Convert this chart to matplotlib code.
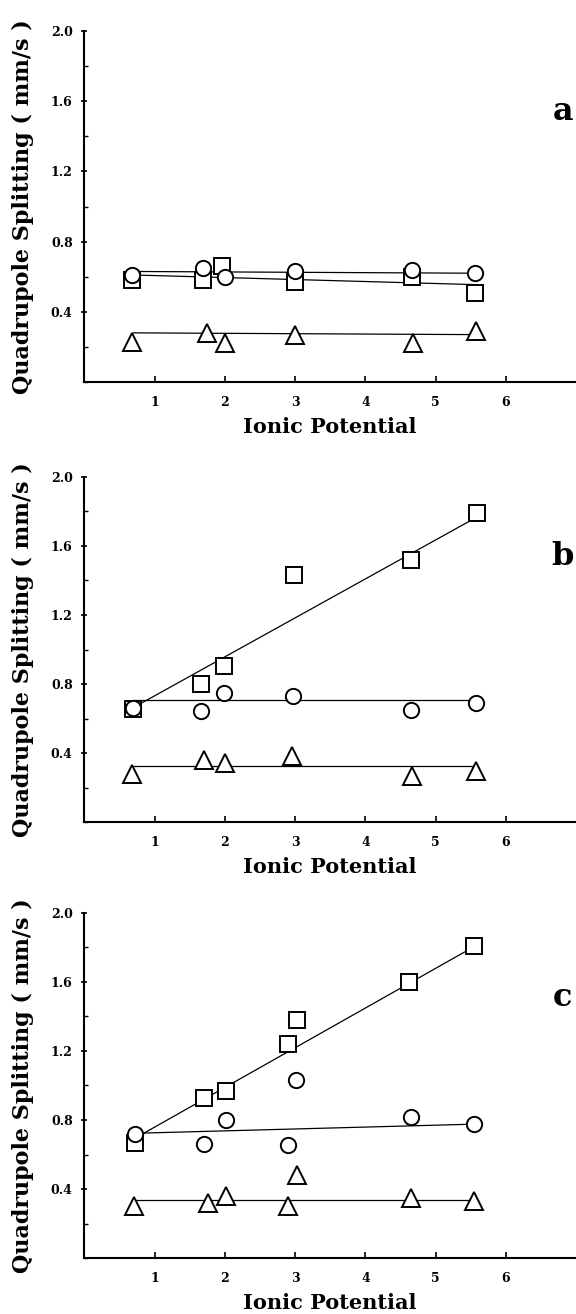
import numpy as np
import matplotlib
matplotlib.use("Agg")
import matplotlib.pyplot as plt
from matplotlib.ticker import MultipleLocator

plt.rcParams["font.family"] = "DejaVu Serif"
plt.rcParams["font.weight"] = "bold"

# Ionic potential of the exchanged cations, per panel
x_a = [0.68, 1.69, 2.0, 3.0, 4.66, 5.56]
x_b = [0.69, 1.66, 1.99, 2.98, 4.65, 5.59]

# panel a
sq_a_x = [0.68, 1.69, 1.96, 3.0, 4.66, 5.56]
sq_a = [0.58, 0.58, 0.66, 0.57, 0.60, 0.51]
ci_a = [0.61, 0.65, 0.60, 0.63, 0.64, 0.62]
tr_a_x = [0.68, 1.74, 2.0, 3.0, 4.68, 5.57]
tr_a = [0.23, 0.28, 0.22, 0.27, 0.22, 0.29]
fit_a = {"sq": ([0.70, 5.56], [0.61, 0.555]),
         "ci": ([0.70, 5.56], [0.63, 0.62]),
         "tr": ([0.70, 5.56], [0.28, 0.27])}

# panel b
sq_b = [0.655, 0.80, 0.905, 1.43, 1.52, 1.79]
ci_b_x = [0.69, 1.66, 1.99, 2.97, 4.65, 5.57]
ci_b = [0.66, 0.645, 0.75, 0.73, 0.65, 0.69]
tr_b_x = [0.67, 1.70, 2.0, 2.96, 4.67, 5.58]
tr_b = [0.28, 0.36, 0.34, 0.38, 0.265, 0.295]
fit_b = {"sq": ([0.77, 5.51], [0.68, 1.75]),
         "ci": ([0.70, 5.56], [0.705, 0.705]),
         "tr": ([0.70, 5.56], [0.327, 0.327])}

# panel c
sq_c_x = [0.72, 1.70, 2.02, 2.90, 3.03, 4.62, 5.55]
sq_c = [0.665, 0.925, 0.967, 1.24, 1.38, 1.597, 1.81]
ci_c_x = [0.72, 1.70, 2.01, 2.90, 3.01, 4.65, 5.55]
ci_c = [0.72, 0.66, 0.80, 0.655, 1.03, 0.815, 0.776]
tr_c_x = [0.70, 1.76, 2.01, 2.90, 3.02, 4.65, 5.55]
tr_c = [0.30, 0.32, 0.357, 0.304, 0.48, 0.348, 0.33]
fit_c = {"sq": ([0.80, 5.44], [0.713, 1.78]),
         "ci": ([0.72, 5.55], [0.723, 0.776]),
         "tr": ([0.70, 5.55], [0.338, 0.338])}

panels = [
    ("a", (sq_a_x, sq_a), (x_a, ci_a), (tr_a_x, tr_a), fit_a, 1.54),
    ("b", (x_b, sq_b), (ci_b_x, ci_b), (tr_b_x, tr_b), fit_b, 1.54),
    ("c", (sq_c_x, sq_c), (ci_c_x, ci_c), (tr_c_x, tr_c), fit_c, 1.51),
]

rects = [
    [0.1467, 0.7093, 0.8533, 0.267],
    [0.1467, 0.3744, 0.8533, 0.2626],
    [0.1467, 0.0426, 0.8533, 0.2626],
]

fig = plt.figure(figsize=(5.76, 13.14), dpi=100)

mk = dict(mfc="white", mec="black", mew=1.4, ls="none", zorder=3)

for rect, (letter, sq, ci, tr, fit, ly) in zip(rects, panels):
    ax = fig.add_axes(rect)
    for key in ("sq", "ci", "tr"):
        fx, fy = fit[key]
        ax.plot(fx, fy, color="black", lw=0.9, zorder=2)
    ax.plot(sq[0], sq[1], marker="s", ms=11, **mk)
    ax.plot(ci[0], ci[1], marker="o", ms=11, **mk)
    ax.plot(tr[0], tr[1], marker="^", ms=13, **mk)

    ax.set_xlim(0, 7.0)
    ax.set_ylim(0, 2.0)
    ax.set_xticks([1, 2, 3, 4, 5, 6])
    ax.set_yticks([0.4, 0.8, 1.2, 1.6, 2.0])
    ax.set_yticklabels(["0.4", "0.8", "1.2", "1.6", "2.0"])
    ax.yaxis.set_minor_locator(MultipleLocator(0.2))
    ax.tick_params(axis="x", direction="in", length=4, width=1.2, labelsize=9, pad=10)
    ax.tick_params(axis="y", which="major", direction="inout", length=5, width=1.2,
                   labelsize=9, pad=6)
    ax.tick_params(axis="y", which="minor", direction="in", length=3, width=1.0)
    for s in ("top", "right"):
        ax.spines[s].set_visible(False)
    for s in ("left", "bottom"):
        ax.spines[s].set_linewidth(1.5)
    for lab in ax.get_xticklabels() + ax.get_yticklabels():
        lab.set_fontweight("bold")

    ax.set_xlabel("Ionic Potential", fontsize=15, fontweight="bold", labelpad=6)
    ax.set_ylabel("Quadrupole Splitting ( mm/s )", fontsize=16, fontweight="bold",
                  labelpad=12)
    ax.text(6.81, ly, letter, fontsize=23, fontweight="bold", ha="center", va="center")

fig.savefig("out.png", dpi=100)
